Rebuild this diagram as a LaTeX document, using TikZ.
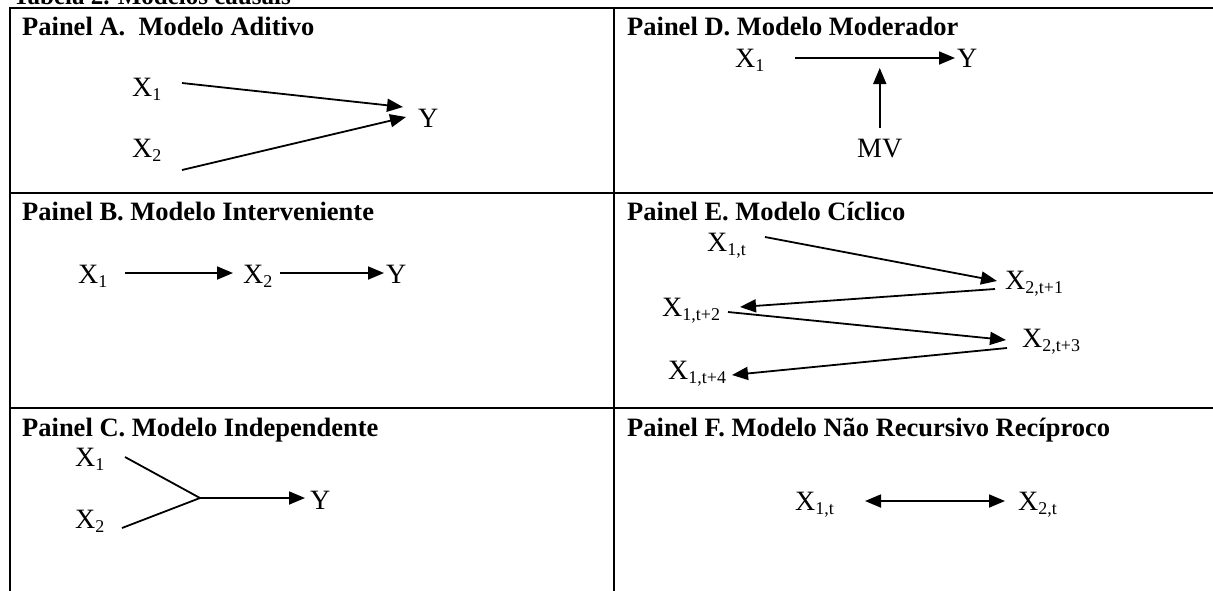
\documentclass[tikz,border=0pt]{standalone}
\usepackage{fontspec}
\setmainfont{Liberation Serif}
\usetikzlibrary{arrows.meta}
\newcommand{\lbsub}[1]{\raisebox{-4pt}{\fontsize{18}{18}\selectfont #1}}
\tikzset{
  grid/.style={line width=2pt, line cap=rect},
  ttl/.style={anchor=base west, inner sep=0pt, font=\fontsize{26.5}{28}\selectfont\bfseries},
  lab/.style={anchor=base west, inner sep=0pt, font=\fontsize{28}{30}\selectfont},
  arr/.style={line width=1.8pt, -{Triangle[length=16pt,width=13pt]}},
  dbl/.style={line width=1.8pt, {Triangle[length=16pt,width=13pt]}-{Triangle[length=16pt,width=13pt]}},
  ln/.style={line width=1.8pt}
}
\begin{document}
\begin{tikzpicture}[x=1pt,y=-1pt]
\useasboundingbox (0,0) rectangle (1213,590);
\clip (0,0) rectangle (1213,590);
\fill[white] (0,0) rectangle (1213,590);
% caption (cut off at the top)
\node[ttl, font=\fontsize{25}{27}\selectfont\bfseries] (cap) at (13,4) {Tabela 2. Modelos causais};
% table grid
\draw[grid] (10,8) -- (1214,8);
\draw[grid] (10,193) -- (1214,193);
\draw[grid] (10,408) -- (1214,408);
\draw[grid] (10,8) -- (10,592);
\draw[grid] (614,8) -- (614,592);

% Panel A
\node[ttl] (tA) at (22,35) {Painel A.\ \ Modelo Aditivo};
\node[lab] (a1) at (132,96) {X\lbsub{1}};
\node[lab] (a2) at (132,157) {X\lbsub{2}};
\node[lab] (ay) at (418,127) {Y};
\draw[arr] ([shift={(50,-13)}]a1.base west) -- ([shift={(-15,-20)}]ay.base west);
\draw[arr] ([shift={(50,13)}]a2.base west) -- ([shift={(-12,-10)}]ay.base west);

% Panel D
\node[ttl] (tD) at (627,35) {Painel D. Modelo Moderador};
\node[lab] (d1) at (735,67) {X\lbsub{1}};
\node[lab] (dy) at (957,67) {Y};
\node[lab] (dm) at (857,157) {MV};
\draw[arr] ([shift={(60,-9)}]d1.base west) -- ([shift={(-2,-9)}]dy.base west);
\draw[arr] ([shift={(0,-29)}]dm.base) -- ([shift={(0,-89)}]dm.base);

% Panel B
\node[ttl] (tB) at (22,220) {Painel B. Modelo Interveniente};
\node[lab] (b1) at (78,283) {X\lbsub{1}};
\node[lab] (b2) at (243,283) {X\lbsub{2}};
\node[lab] (by) at (386,283) {Y};
\draw[arr] ([shift={(47,-10)}]b1.base west) -- ([shift={(-10,-10)}]b2.base west);
\draw[arr] ([shift={(37,-10)}]b2.base west) -- ([shift={(-2,-10)}]by.base west);

% Panel E
\node[ttl] (tE) at (627,220) {Painel E. Modelo C\'{\i}clico};
\node[lab] (e1) at (707,251) {X\lbsub{1,t}};
\node[lab] (e2) at (1005,289) {X\lbsub{2,t+1}};
\node[lab] (e3) at (662,316) {X\lbsub{1,t+2}};
\node[lab] (e4) at (1022,347) {X\lbsub{2,t+3}};
\node[lab] (e5) at (668,379) {X\lbsub{1,t+4}};
\draw[arr] ([shift={(58,-14)}]e1.base west) -- ([shift={(-8,-8)}]e2.base west);
\draw[arr] ([shift={(-10,0)}]e2.base west) -- ([shift={(78,-9)}]e3.base west);
\draw[arr] ([shift={(66,-4)}]e3.base west) -- ([shift={(-16,-7)}]e4.base west);
\draw[arr] ([shift={(-15,1)}]e4.base west) -- ([shift={(64,-4)}]e5.base west);

% Panel C
\node[ttl] (tC) at (22,436) {Painel C. Modelo Independente};
\node[lab] (c1) at (75,466) {X\lbsub{1}};
\node[lab] (c2) at (75,528) {X\lbsub{2}};
\node[lab] (cy) at (310,509) {Y};
\coordinate (cj) at (200,498);
\draw[ln] ([shift={(50,-9)}]c1.base west) -- (cj);
\draw[ln] ([shift={(47,0)}]c2.base west) -- (cj);
\draw[arr] (cj) -- ([shift={(-5,-11)}]cy.base west);

% Panel F
\node[ttl] (tF) at (627,436) {Painel F. Modelo N\~ao Recursivo Rec\'{\i}proco};
\node[lab] (f1) at (795,510) {X\lbsub{1,t}};
\node[lab] (f2) at (1018,510) {X\lbsub{2,t}};
\draw[dbl] ([shift={(70,-9)}]f1.base west) -- ([shift={(-13,-9)}]f2.base west);
\end{tikzpicture}
\end{document}
